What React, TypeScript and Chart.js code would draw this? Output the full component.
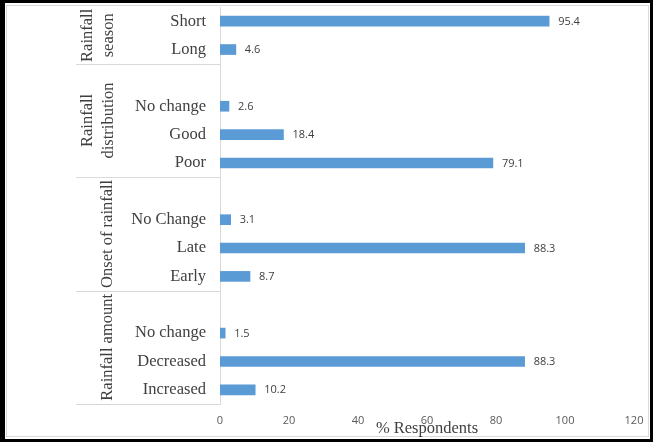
import React, { useEffect, useRef } from "react";
import { Chart, registerables } from "chart.js";

Chart.register(...registerables);

// ---- Data ----
const groupNames: string[][] = [["Rainfall", "season"], ["Rainfall", "distribution"], ["Onset of rainfall"], ["Rainfall amount"]];
const seasonCats = ["Short", "Long"];
const seasonVals = [95.4, 4.6];
const distributionCats = ["No change", "Good", "Poor"];
const distributionVals = [2.6, 18.4, 79.1];
const onsetCats = ["No Change", "Late", "Early"];
const onsetVals = [3.1, 88.3, 8.7];
const amountCats = ["No change", "Decreased", "Increased"];
const amountVals = [1.5, 88.3, 10.2];
const xTicks = [0, 20, 40, 60, 80, 100, 120];
const xTitle = "% Respondents";

// Build combined category list (a blank slot opens each group after the first)
const groupCats = [seasonCats, distributionCats, onsetCats, amountCats];
const groupVals = [seasonVals, distributionVals, onsetVals, amountVals];
const labels: string[] = [];
const values: (number | null)[] = [];
const groupRanges: [number, number][] = [];
groupCats.forEach((cats, gi) => {
  const start = labels.length;
  if (gi > 0) {
    labels.push("");
    values.push(null);
  }
  cats.forEach((c, i) => {
    labels.push(c);
    values.push(groupVals[gi][i]);
  });
  groupRanges.push([start, labels.length - 1]);
});

const SERIF = "'Liberation Serif', 'Times New Roman', serif";
const SANS = "'Open Sans', 'Liberation Sans', sans-serif";
const GRID = "#D9D9D9";
const TEXT = "#404040";

const framePlugin = {
  id: "frame",
  beforeDraw(chart: any) {
    const ctx = chart.ctx;
    const W = chart.width;
    const H = chart.height;
    ctx.save();
    ctx.fillStyle = "#000";
    ctx.fillRect(0, 0, W, H);
    ctx.fillStyle = "#fff";
    ctx.fillRect(5, 3, 645, 436);
    ctx.strokeStyle = GRID;
    ctx.lineWidth = 1;
    ctx.strokeRect(6.5, 5.5, 642, 431);
    ctx.restore();
  },
  afterDraw(chart: any) {
    const ctx = chart.ctx;
    const ys = chart.scales.y;
    const area = chart.chartArea;
    const slot = (area.bottom - area.top) / labels.length;
    ctx.save();
    // group separators
    ctx.strokeStyle = GRID;
    ctx.lineWidth = 1;
    groupRanges.forEach(([s, e]) => {
      const yb = Math.round(ys.getPixelForValue(e) + slot / 2) + 0.5;
      ctx.beginPath();
      ctx.moveTo(76, yb);
      ctx.lineTo(area.left, yb);
      ctx.stroke();
    });
    // group labels
    ctx.fillStyle = TEXT;
    ctx.font = `16.5px ${SERIF}`;
    ctx.textAlign = "center";
    ctx.textBaseline = "middle";
    groupRanges.forEach(([s, e], gi) => {
      const top = ys.getPixelForValue(s) - slot / 2;
      const bot = ys.getPixelForValue(e) + slot / 2;
      const cy = (top + bot) / 2;
      const lines = groupNames[gi];
      const xs = lines.length === 2 ? [87, 108] : [107];
      lines.forEach((ln, li) => {
        ctx.save();
        ctx.translate(xs[li], cy);
        ctx.rotate(-Math.PI / 2);
        ctx.fillText(ln, 0, 1);
        ctx.restore();
      });
    });
    // x axis title
    ctx.textAlign = "center";
    ctx.textBaseline = "alphabetic";
    ctx.fillText(xTitle, (area.left + area.right) / 2, 433);
    ctx.restore();
  },
  afterDatasetsDraw(chart: any) {
    const ctx = chart.ctx;
    const meta = chart.getDatasetMeta(0);
    ctx.save();
    ctx.fillStyle = TEXT;
    ctx.font = `11px ${SANS}`;
    ctx.textAlign = "left";
    ctx.textBaseline = "middle";
    meta.data.forEach((bar: any, i: number) => {
      const v = values[i];
      if (v === null || v === undefined) return;
      ctx.fillText(v.toFixed(1), bar.x + 9, bar.y + 0.5);
    });
    ctx.restore();
  },
};

export default function App() {
  const ref = useRef<HTMLCanvasElement | null>(null);
  useEffect(() => {
    document.body.style.margin = "0";
    const canvas = ref.current!;
    const chart = new Chart(canvas, {
      type: "bar",
      data: {
        labels,
        datasets: [
          {
            data: values as any,
            backgroundColor: "#5B9BD5",
            borderWidth: 0,
            barThickness: 10,
          },
        ],
      },
      options: {
        indexAxis: "y",
        responsive: false,
        animation: false,
        devicePixelRatio: 1,
        layout: { padding: { top: 7, right: 19, bottom: 0, left: 0 } },
        plugins: { legend: { display: false }, tooltip: { enabled: false }, title: { display: false } },
        scales: {
          x: {
            type: "linear",
            min: 0,
            max: 120,
            afterBuildTicks: (s: any) => {
              s.ticks = xTicks.map((v) => ({ value: v }));
            },
            afterFit: (s: any) => {
              s.height = 38;
              s.paddingLeft = 0;
              s.paddingRight = 0;
            },
            grid: { display: false, drawTicks: false },
            border: { display: false },
            ticks: { color: "#595959", font: { family: SANS, size: 11 }, padding: 10 },
          },
          y: {
            type: "category",
            afterFit: (s: any) => {
              s.width = 220;
              s.paddingTop = 0;
              s.paddingBottom = 0;
            },
            grid: { display: false, drawTicks: false },
            border: { display: true, color: GRID, width: 1 },
            ticks: { color: TEXT, font: { family: SERIF, size: 16.5 }, padding: 14, autoSkip: false },
          },
        },
      },
      plugins: [framePlugin],
    });
    return () => chart.destroy();
  }, []);
  return (
    <div style={{ width: 653, height: 442 }}>
      <canvas ref={ref} width={653} height={442} style={{ display: "block" }} />
    </div>
  );
}
